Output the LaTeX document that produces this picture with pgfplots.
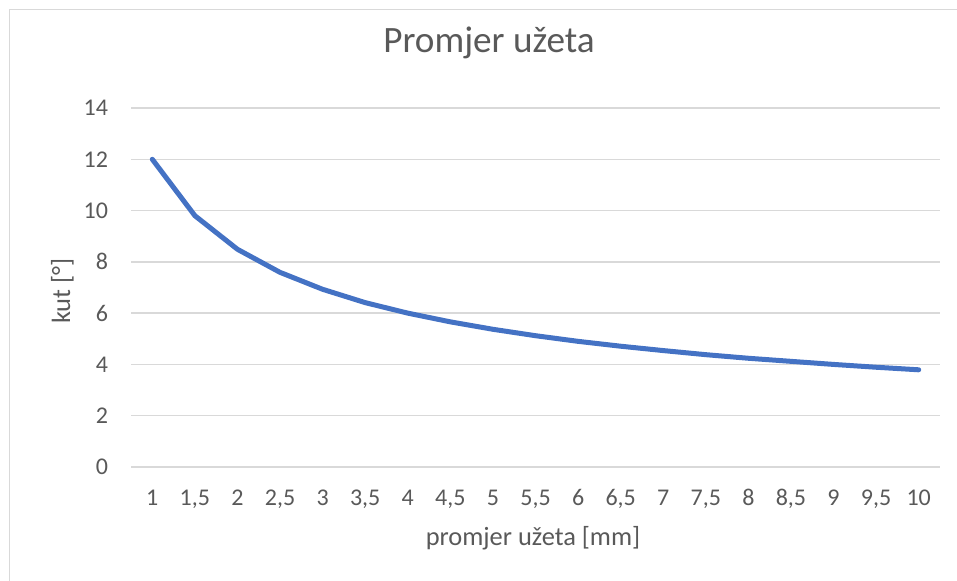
\documentclass[border=0pt]{standalone}
\usepackage{pgfplots}
\pgfplotsset{compat=1.18}
\usepackage{fontspec}
\setmainfont{Carlito}
\definecolor{txt}{HTML}{595959}
\definecolor{gridc}{HTML}{D9D9D9}
\definecolor{serie}{HTML}{4472C4}
\begin{document}
\begin{tikzpicture}[x=0.5pt,y=0.5pt]
\path[use as bounding box] (0,0) rectangle (957,581);
% chart frame (top and left edges)
\draw[gridc, line width=0.75pt] (9.5,0) -- (9.5,571.5) -- (957,571.5);
\begin{axis}[
  at={(65.5pt,57pt)}, anchor=south west,
  scale only axis, width=404.5pt, height=179.5pt,
  xmin=-0.5, xmax=18.5, ymin=0, ymax=14,
  ytick={0,2,...,14},
  xtick={0,...,18},
  xticklabels={1,{1,5},2,{2,5},3,{3,5},4,{4,5},5,{5,5},6,{6,5},7,{7,5},8,{8,5},9,{9,5},10},
  axis line style={draw=none},
  ymajorgrids, grid style={gridc, line width=0.75pt},
  major tick length=0pt,
  tick label style={font=\fontsize{12pt}{14pt}\selectfont, text=txt},
  /pgf/number format/assume math mode=true,
  xticklabel style={anchor=base, yshift=-19.5pt},
  yticklabel style={anchor=east, xshift=-8pt},
  xlabel={promjer užeta [mm]},
  ylabel={kut [°]},
  label style={font=\fontsize{13.2pt}{16pt}\selectfont, text=txt},
  xlabel style={at={(axis description cs:0.4969,-0.2173)}, anchor=base},
  ylabel style={at={(axis description cs:-0.0754,0.49)}, anchor=base},
  title={Promjer užeta},
  title style={at={(axis description cs:0.4425,1.1198)}, anchor=base,
    font=\fontsize{18.6pt}{22pt}\selectfont, text=txt},
  clip=false,
]
\addplot[serie, line width=2.5pt, line join=round, line cap=round] coordinates {
  (0,12.00) (1,9.80) (2,8.49) (3,7.59) (4,6.93) (5,6.41) (6,6.00)
  (7,5.66) (8,5.37) (9,5.12) (10,4.90) (11,4.71) (12,4.54) (13,4.38)
  (14,4.24) (15,4.12) (16,4.00) (17,3.89) (18,3.79)
};
\end{axis}
\end{tikzpicture}
\end{document}
